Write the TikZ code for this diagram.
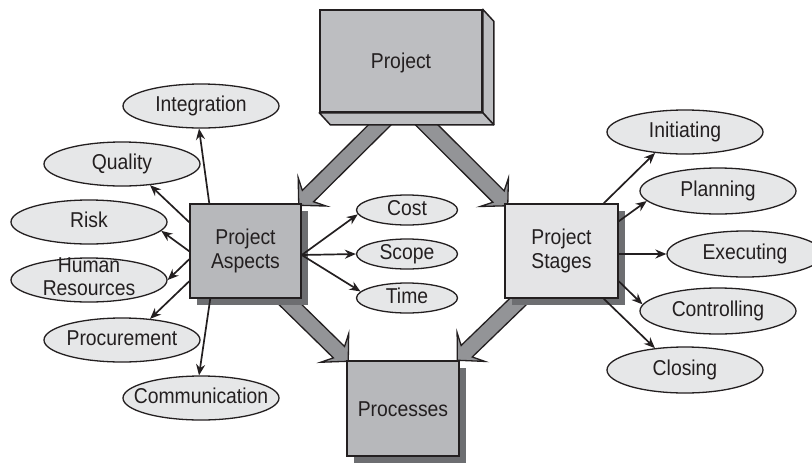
\documentclass[tikz,border=0pt]{standalone}
\usepackage{fontspec}
\setmainfont{Liberation Sans}[FakeStretch=0.9]
\usetikzlibrary{shapes.geometric,arrows.meta,calc,shadows,backgrounds}
\definecolor{ink}{HTML}{231F20}
\definecolor{projfill}{HTML}{BDBEC1}
\definecolor{midfill}{HTML}{B7B8BB}
\definecolor{lightfill}{HTML}{E4E4E6}
\definecolor{ellfill}{HTML}{E6E7E8}
\definecolor{bigfill}{HTML}{939497}
\definecolor{shadowfill}{HTML}{6D6E71}
\newcommand\fatarrow[2]{%
  \coordinate (fa-b) at ($(#2)!19pt!(#1)$);
  \coordinate (fa-n) at ($(#2)!13pt!(#1)$);
  \filldraw[bigarrow] (#2)
    -- ($(fa-b)!20pt!90:(#2)$) -- ($(fa-n)!8pt!90:(#2)$) -- ($(#1)!8pt!90:(#2)$)
    -- ($(#1)!8pt!-90:(#2)$) -- ($(fa-n)!8pt!-90:(#2)$) -- ($(fa-b)!20pt!-90:(#2)$) -- cycle;}
\begin{document}
\begin{tikzpicture}[x=1pt,y=-1pt,
  every node/.style={text=ink, font=\fontsize{21.5}{24}\selectfont},
  box/.style={draw=ink, line width=1.5pt, rectangle, inner sep=0pt, align=center},
  oval/.style={ellipse, draw=ink, line width=1.3pt, fill=ellfill, inner xsep=-20pt, inner ysep=0pt,
    minimum width=156pt, minimum height=44pt, text height=15pt, text depth=5pt},
  smalloval/.style={oval, minimum width=101pt, minimum height=30pt},
  conn/.style={draw=ink, line width=1.7pt, -{Stealth[length=11pt,width=9pt]}},
  bigarrow/.style={draw=ink, line width=1.3pt, fill=bigfill, line join=miter},
  boxshadow/.style={drop shadow={shadow xshift=7pt, shadow yshift=-7pt, fill=shadowfill, opacity=1}},
  face/.style={fill=projfill, draw=ink, line width=1.5pt, line join=round}
]
\useasboundingbox (0,0) rectangle (812,464);

% main boxes
\node[box, fill=projfill, minimum width=162pt, minimum height=102pt, text height=15.5pt, text depth=0pt] (proj) at (401,61) {Project};
\filldraw[face] (proj.north east) -- ++(11,12) -- ($(proj.south east)+(11,12)$) -- (proj.south east) -- cycle;
\filldraw[face] (proj.south west) -- ++(11,12) -- ($(proj.south east)+(11,12)$) -- (proj.south east) -- cycle;
\node[box, fill=midfill, boxshadow, minimum width=111pt, minimum height=94pt] (asp) at (245.5,251) {Project\\Aspects};
\node[box, fill=lightfill, boxshadow, minimum width=113pt, minimum height=94pt] (stg) at (561.5,251) {Project\\Stages};
\node[box, fill=midfill, boxshadow, minimum width=112pt, minimum height=95pt, text height=15.5pt, text depth=0pt] (proc) at (403,408.5) {Processes};

% fat arrows behind the boxes
\coordinate (a1s) at ($(proj.south)+(-4,-5)$);
\coordinate (a1t) at ($(asp.north east)+(-3,2)$);
\coordinate (a2s) at ($(proj.south)+(8.5,-5)$);
\coordinate (a2t) at ($(stg.north west)+(3.5,2.5)$);
\coordinate (a3s) at ($(asp.south west)+(87,-8)$);
\coordinate (a3t) at ($(proc.north west)+(2,1)$);
\coordinate (a4s) at ($(stg.south west)+(25,-8)$);
\coordinate (a4t) at ($(proc.north east)+(-2.4,0)$);
\begin{scope}[on background layer]
  \fatarrow{a1s}{a1t}
  \fatarrow{a2s}{a2t}
  \fatarrow{a3s}{a3t}
  \fatarrow{a4s}{a4t}
\end{scope}

% ellipses
\node[oval] (integ) at (201,106) {Integration};
\node[oval] (qual) at (122,164) {Quality};
\node[oval] (risk) at (89,222) {Risk};
\node[oval] (hr) at (89,280) {\fontsize{21.5}{23}\selectfont\begin{tabular}{@{}c@{}}Human\\Resources\end{tabular}};
\node[oval] (procu) at (122,340) {Procurement};
\node[oval] (comm) at (201,398) {Communication};
\node[smalloval] (cost) at (407,210) {Cost};
\node[smalloval] (scope) at (407,254) {Scope};
\node[smalloval] (time) at (407,298) {Time};
\node[oval] (init) at (685,132) {Initiating};
\node[oval, minimum height=46pt] (plan) at (718,191) {Planning};
\node[oval, minimum height=46pt] (exec) at (745,254) {Executing};
\node[oval, minimum height=46pt] (ctrl) at (718,311) {Controlling};
\node[oval, minimum height=46pt] (clos) at (685,370) {Closing};

% connectors
\draw[conn] ($(asp.north west)+(20,0)$) -- (integ.265);
\draw[conn] ($(asp.north west)+(0,19)$) -- (qual.-37);
\draw[conn] ($(asp.north west)+(0,48)$) -- (risk.-7);
\draw[conn] ($(asp.north west)+(0,56)$) -- (hr.east);
\draw[conn] ($(asp.north west)+(0,78)$) -- (procu.37);
\draw[conn] ($(asp.south west)+(21,0)$) -- (comm.95);
\draw[conn] ($(asp.east)+(0,4)$) -- (cost.185);
\draw[conn] ($(asp.east)+(0,4)$) -- (scope.west);
\draw[conn] ($(asp.east)+(0,4)$) -- (time.172);
\draw[conn] ($(stg.north east)+(-15,0)$) -- (init.215);
\draw[conn] ($(stg.north east)+(0,18)$) -- (plan.188);
\draw[conn] ($(stg.east)+(0,3)$) -- (exec.west);
\draw[conn] ($(stg.north east)+(0,78)$) -- (ctrl.175);
\draw[conn] ($(stg.south east)+(-15,0)$) -- (clos.144);
\end{tikzpicture}
\end{document}
